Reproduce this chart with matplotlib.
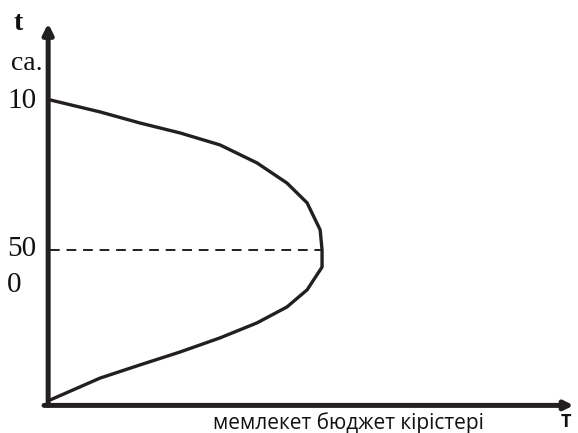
import matplotlib
matplotlib.use("Agg")
import matplotlib.pyplot as plt

# tax rate t (%) and budget revenue (arbitrary units, peak = 100)
tax_rate = [100, 96, 92.3, 89, 85, 79, 72.3, 65.7, 56.7, 50,
            44.3, 36.7, 31, 25.7, 20.7, 16, 11.7, 7.3, 0]
revenue = [0, 18.4, 33.1, 47.8, 62.5, 76.1, 87.1, 94.5, 99.3, 100,
           100, 94.5, 87.1, 76.1, 62.5, 47.8, 33.1, 18.4, 0]

peak_rate = 50
peak_revenue = 100

y_tick_labels = ["10", "50", "0"]
y_unit = "ca."
x_label = "мемлекет бюджет кірістері"

fig = plt.figure(figsize=(5.78, 4.33), dpi=100)
ax = fig.add_axes([0, 0, 1, 1])
ax.set_xlim(-18.4, 194.1)
ax.set_ylim(-11, 133.3)
ax.axis("off")

# axes with arrows
ax.annotate("", xy=(-0.7, 125.5), xytext=(-0.7, -1.8),
            arrowprops=dict(arrowstyle="-|>,head_length=0.6,head_width=0.3",
                            color="#231f20", lw=3.6, shrinkA=0, shrinkB=0))
ax.annotate("", xy=(192.5, -1.8), xytext=(-2.2, -1.8),
            arrowprops=dict(arrowstyle="-|>,head_length=0.5,head_width=0.25",
                            color="#231f20", lw=3.6, shrinkA=0, shrinkB=0))

# Laffer curve
ax.plot(revenue, tax_rate, color="#231f20", lw=2.4, solid_joinstyle="round")
ax.plot([0, peak_revenue], [peak_rate, peak_rate], color="#231f20", lw=1.4,
        linestyle=(0, (5, 3.5)))

serif = "Liberation Serif"
ax.text(-13.5, 125.5, "t", fontfamily=serif, fontweight="bold", fontsize=20,
        ha="left", va="center", color="#111")
ax.text(-14.5, 112, y_unit, fontfamily=serif, fontsize=20,
        ha="left", va="center", color="#111")
ax.text(-15.7, 99.5, y_tick_labels[0], fontfamily=serif, fontsize=21,
        ha="left", va="center", color="#111")
ax.text(-15.7, 50.2, y_tick_labels[1], fontfamily=serif, fontsize=21,
        ha="left", va="center", color="#111")
ax.text(-15.7, 38.3, y_tick_labels[2], fontfamily=serif, fontsize=21,
        ha="left", va="center", color="#111")

ax.text(60, -7.6, x_label, fontfamily="Open Sans", fontsize=15,
        ha="left", va="center", color="#111")
ax.text(189.5, -7.4, "T", fontfamily="Open Sans", fontweight="bold", fontsize=13,
        ha="center", va="center", color="#111")

fig.savefig("out.png", dpi=100)
